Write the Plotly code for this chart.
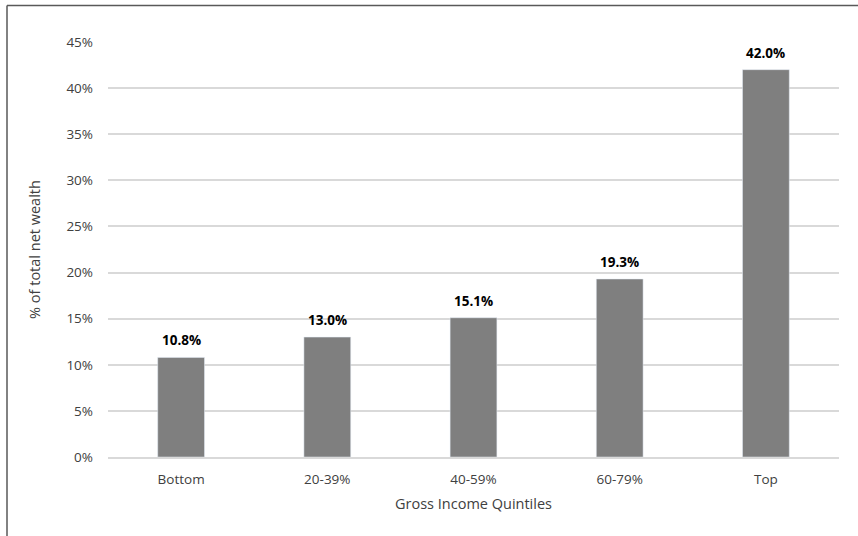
import plotly.graph_objects as go

categories = ["Bottom", "20-39%", "40-59%", "60-79%", "Top"]
values = [10.8, 13.0, 15.1, 19.3, 42.0]
labels = ["10.8%", "13.0%", "15.1%", "19.3%", "42.0%"]
y_ticks = [0, 5, 10, 15, 20, 25, 30, 35, 40, 45]
y_ticktext = [f"{v}%" for v in y_ticks]

W, H = 858, 536
L, R, T, B = 108, 19, 41.6, 79

fig = go.Figure(go.Bar(
    x=categories, y=values, marker_color="#7f7f7f",
))

for c, v, t in zip(categories, values, labels):
    fig.add_annotation(x=c, y=v, text=f"<b>{t}</b>", showarrow=False,
                       yanchor="bottom", yshift=6,
                       font=dict(family="Open Sans", size=13.5, color="#000000"))

pw = W - L - R
ph = H - T - B
fig.update_layout(
    width=W, height=H,
    margin=dict(l=L, r=R, t=T, b=B),
    paper_bgcolor="white", plot_bgcolor="white",
    bargap=0.68, showlegend=False,
    font=dict(family="Open Sans", size=13, color="#404040"),
    xaxis=dict(title=dict(text="Gross Income Quintiles", standoff=12,
                          font=dict(size=14.5, color="#404040")),
               showline=True, linecolor="#d9d9d9", linewidth=1.5,
               ticks="", ticklabelstandoff=9,
               tickfont=dict(size=13.5, color="#404040")),
    yaxis=dict(title=dict(text="% of total net wealth", standoff=22,
                          font=dict(size=14.5, color="#404040")),
               range=[0, 45], tickvals=y_ticks, ticktext=y_ticktext,
               showgrid=True, gridcolor="#d9d9d9", gridwidth=1.5,
               zeroline=False, ticks="", ticklabelstandoff=14,
               tickfont=dict(size=13.5, color="#404040")),
    shapes=[
        dict(type="line", xref="paper", yref="paper",
             x0=(7 - L) / pw, x1=(7 - L) / pw,
             y0=(H - B - 536) / ph, y1=(H - B - 5) / ph,
             line=dict(color="#595959", width=1.5)),
        dict(type="line", xref="paper", yref="paper",
             x0=(7 - L) / pw, x1=(858 - L) / pw,
             y0=(H - B - 5) / ph, y1=(H - B - 5) / ph,
             line=dict(color="#595959", width=1.5)),
    ],
)

fig.write_html("out.html")
